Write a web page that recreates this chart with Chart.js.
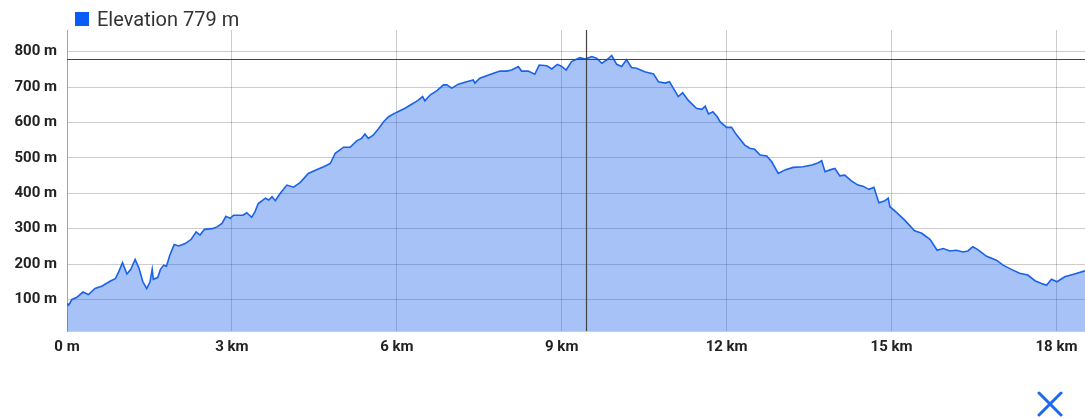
<!DOCTYPE html>
<html>
<head>
<meta charset="utf-8">
<title>Elevation</title>
<script src="https://cdn.jsdelivr.net/npm/chart.js@4.4.1/dist/chart.umd.min.js"></script>
<style>
    html, body { margin: 0; padding: 0; background: #fff; }
    #wrap { position: relative; width: 1085px; height: 419px; overflow: hidden; }
    #closeIcon { position: absolute; left: 1037px; top: 391px; }
</style>
</head>
<body>
<div id="wrap">
    <canvas id="elevChart" width="1085" height="419"></canvas>
    <svg id="closeIcon" width="26" height="26" viewBox="0 0 26 26">
        <path d="M2 2 L24 24 M24 2 L2 24" stroke="#1c68ee" stroke-width="3" stroke-linecap="round" fill="none"/>
    </svg>
</div>
<script>
// distance along the track (km) and elevation (m)
const distanceKm = [
    0.00, 0.03, 0.09, 0.18, 0.29, 0.39, 0.51, 0.64, 0.79, 0.88, 0.94, 1.01, 1.09, 1.16, 1.24, 1.31,
    1.38, 1.45, 1.51, 1.55, 1.57, 1.65, 1.70, 1.76, 1.81, 1.87, 1.95, 2.03, 2.15, 2.26, 2.35, 2.42,
    2.50, 2.64, 2.73, 2.82, 2.89, 2.97, 3.03, 3.20, 3.27, 3.36, 3.42, 3.48, 3.61, 3.67, 3.73, 3.79,
    3.88, 4.00, 4.12, 4.24, 4.39, 4.55, 4.67, 4.79, 4.88, 5.03, 5.15, 5.27, 5.36, 5.42, 5.48, 5.57,
    5.67, 5.76, 5.85, 6.00, 6.15, 6.30, 6.39, 6.47, 6.51, 6.61, 6.73, 6.85, 6.91, 7.00, 7.12, 7.27,
    7.39, 7.42, 7.51, 7.67, 7.76, 7.88, 8.00, 8.09, 8.21, 8.27, 8.39, 8.51, 8.59, 8.73, 8.82, 8.92,
    9.00, 9.08, 9.18, 9.33, 9.42, 9.55, 9.64, 9.73, 9.82, 9.91, 10.00, 10.09, 10.18, 10.27, 10.36, 10.51,
    10.67, 10.76, 10.88, 10.96, 11.03, 11.12, 11.20, 11.30, 11.45, 11.55, 11.61, 11.67, 11.75, 11.83, 11.88, 12.00,
    12.09, 12.18, 12.33, 12.42, 12.51, 12.61, 12.73, 12.82, 12.94, 13.06, 13.21, 13.39, 13.55, 13.67, 13.73, 13.79,
    13.88, 13.97, 14.06, 14.15, 14.27, 14.39, 14.48, 14.59, 14.68, 14.77, 14.88, 14.94, 14.97, 15.06, 15.24, 15.42,
    15.55, 15.70, 15.83, 15.94, 16.06, 16.18, 16.30, 16.39, 16.48, 16.57, 16.73, 16.91, 17.03, 17.18, 17.33, 17.48,
    17.61, 17.73, 17.82, 17.91, 18.01, 18.15, 18.33, 18.52
];
const elevationM = [
    89, 84, 100, 106, 121, 114, 131, 138, 152, 159, 178, 204, 172, 185, 213, 188,
    150, 131, 150, 185, 157, 162, 185, 197, 194, 225, 255, 251, 258, 270, 291, 282,
    298, 300, 305, 315, 335, 329, 338, 338, 345, 332, 348, 371, 386, 381, 390, 379,
    400, 423, 417, 430, 456, 467, 475, 484, 513, 530, 530, 548, 555, 567, 555, 564,
    583, 602, 616, 629, 640, 654, 663, 673, 661, 678, 690, 706, 706, 697, 708, 715,
    720, 711, 725, 734, 739, 745, 745, 748, 758, 745, 745, 736, 762, 760, 751, 764,
    758, 748, 772, 783, 779, 786, 781, 767, 777, 789, 764, 758, 777, 755, 753, 743,
    737, 715, 711, 715, 697, 673, 684, 663, 640, 637, 646, 624, 630, 616, 602, 586,
    586, 565, 536, 527, 524, 508, 505, 489, 456, 466, 473, 475, 480, 486, 492, 461,
    466, 470, 449, 451, 435, 423, 420, 411, 417, 373, 379, 386, 362, 350, 324, 294,
    287, 270, 239, 244, 237, 239, 234, 237, 249, 241, 222, 211, 197, 185, 174, 169,
    153, 145, 140, 157, 150, 164, 172, 181
];

const xTicks = [0, 3, 6, 9, 12, 15, 18];
const yTicks = [100, 200, 300, 400, 500, 600, 700, 800];

// crosshair position (selected point)
const cursorKm = 9.44;
const cursorElevation = 779;

const gridColor = 'rgba(0, 0, 0, 0.2)';
const tickFont = { family: 'Roboto', size: 15, weight: 'bold' };

const points = distanceKm.map((d, i) => ({ x: d, y: elevationM[i] }));

const legendPlugin = {
    id: 'topLegend',
    afterDraw(chart) {
        const ctx = chart.ctx;
        ctx.save();
        ctx.fillStyle = '#0b5cf5';
        ctx.fillRect(75, 12, 14, 14);
        ctx.fillStyle = '#333';
        ctx.font = '20px Roboto';
        ctx.textBaseline = 'alphabetic';
        ctx.fillText(`Elevation ${cursorElevation} m`, 97, 26);
        ctx.restore();
    }
};

const crosshairPlugin = {
    id: 'crosshair',
    afterDatasetsDraw(chart) {
        const { ctx, chartArea, scales } = chart;
        const px = Math.round(scales.x.getPixelForValue(cursorKm)) + 0.5;
        const py = Math.round(scales.y.getPixelForValue(cursorElevation)) + 0.5;
        ctx.save();
        ctx.strokeStyle = '#444';
        ctx.lineWidth = 1.2;
        ctx.beginPath();
        ctx.moveTo(px, chartArea.top);
        ctx.lineTo(px, chartArea.bottom);
        ctx.moveTo(chartArea.left, py);
        ctx.lineTo(chartArea.right, py);
        ctx.stroke();
        ctx.restore();
    }
};

new Chart(document.getElementById('elevChart'), {
    type: 'line',
    data: {
        datasets: [{
            label: 'Elevation',
            data: points,
            borderColor: '#1a62e8',
            borderWidth: 1.6,
            backgroundColor: 'rgba(20, 95, 235, 0.38)',
            fill: 'start',
            pointRadius: 0,
            tension: 0
        }]
    },
    options: {
        responsive: false,
        animation: false,
        layout: { padding: { top: 30, right: 0, left: 0, bottom: 0 } },
        plugins: {
            legend: { display: false },
            tooltip: { enabled: false }
        },
        scales: {
            x: {
                type: 'linear',
                min: 0,
                max: 18.52,
                afterBuildTicks: s => { s.ticks = xTicks.map(v => ({ value: v })); },
                afterFit: s => { s.height = 88; },
                grid: { color: gridColor, drawTicks: false },
                border: { color: gridColor },
                ticks: {
                    padding: 7,
                    color: '#222',
                    font: tickFont,
                    maxRotation: 0,
                    autoSkip: false,
                    callback: v => v === 0 ? '0 m' : v + ' km'
                }
            },
            y: {
                min: 11,
                max: 861,
                afterBuildTicks: s => { s.ticks = yTicks.map(v => ({ value: v })); },
                afterFit: s => { s.width = 67; },
                grid: { color: gridColor, drawTicks: false },
                border: { color: gridColor },
                ticks: {
                    padding: 10,
                    color: '#222',
                    font: tickFont,
                    callback: v => v + ' m'
                }
            }
        }
    },
    plugins: [legendPlugin, crosshairPlugin]
});
</script>
</body>
</html>
